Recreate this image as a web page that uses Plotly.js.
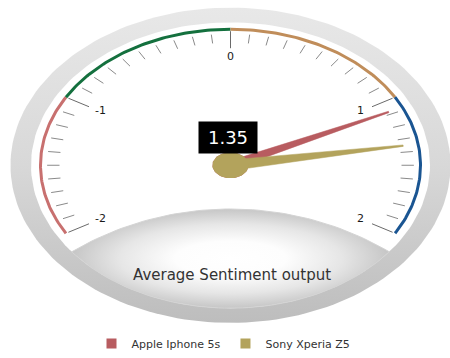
<!DOCTYPE html>
<html><head><meta charset="utf-8">
<script src="https://cdn.plot.ly/plotly-3.0.1.min.js"></script>
<style>html,body{margin:0;padding:0;background:#fff}#chart{width:450px;height:358px}</style>
</head><body><div id="chart"></div>
<script>
// ---- data ----
const seriesNames = ['Apple Iphone 5s', 'Sony Xperia Z5'];
const seriesValues = [1.08, 1.35];
const seriesColors = ['#b85c60', '#b3a35c'];
const tickValues = [-2, -1, 0, 1, 2];
const tickLabels = ['-2', '-1', '0', '1', '2'];
const bandFrom = [-2, -1, 0, 1];
const bandTo = [-1, 0, 1, 2];
const bandColors = ['#c8706f', '#14703e', '#c08d5a', '#1a5592'];
const gaugeMin = -2, gaugeMax = 2, minorStep = 0.1;
const gaugeTitle = 'Average Sentiment output';
const labelSeries = 1;

// ---- geometry helpers ----
const W = 450, H = 358, CX = 230.5, CY = 170, SX = 190, SY = 140;
const xr = [-CX / SX, (W - CX) / SX], yr = [(CY - H) / SY, CY / SY];
function ang(v) { return (-120 + (v - gaugeMin) / (gaugeMax - gaugeMin) * 240) * Math.PI / 180; }
function pt(r, a) { return [r * Math.sin(a), r * Math.cos(a)]; }
function ellipse(r, n) { const x = [], y = []; for (let i = 0; i <= n; i++) { const t = 2 * Math.PI * i / n; x.push(r * Math.cos(t)); y.push(r * Math.sin(t)); } return { x, y }; }
function arcPts(r, v0, v1, n) { const x = [], y = []; for (let i = 0; i <= n; i++) { const p = pt(r, ang(v0 + (v1 - v0) * i / n)); x.push(p[0]); y.push(p[1]); } return { x, y }; }

const traces = [];
const deco = { hoverinfo: 'skip', showlegend: false, type: 'scatter' };

// outer ring
const outer = ellipse(1.158, 180);
traces.push(Object.assign({}, deco, { x: outer.x, y: outer.y, mode: 'lines', fill: 'toself', line: { width: 0, color: 'rgba(0,0,0,0)' },
  fillgradient: { type: 'vertical', colorscale: [[0, '#bdbdbd'], [0.5, '#d8d8d8'], [1, '#e8e8e8']] } }));
// face
const FACE = 1.05;
const face = ellipse(FACE, 180);
traces.push(Object.assign({}, deco, { x: face.x, y: face.y, mode: 'lines', fill: 'toself', fillcolor: '#ffffff', line: { width: 0, color: 'rgba(0,0,0,0)' } }));

// lens (bottom pane)
(function () {
  const uy = -0.636, ux = Math.sqrt(FACE * FACE - uy * uy);
  const half = ux * SX, pyEnd = CY - uy * SY, peak = 215;
  const sag = pyEnd - peak, R = (half * half + sag * sag) / (2 * sag), cyc = peak + R;
  const phi0 = Math.asin(half / R);
  const x = [], y = [];
  for (let i = 0; i <= 60; i++) { const f = -phi0 + 2 * phi0 * i / 60; x.push((R * Math.sin(f)) / SX); y.push((CY - (cyc - R * Math.cos(f))) / SY); }
  const a0 = Math.atan2(uy, ux), a1 = Math.atan2(uy, -ux);
  for (let i = 1; i <= 60; i++) { const t = a0 + (a1 - a0) * i / 60; x.push(FACE * Math.cos(t)); y.push(FACE * Math.sin(t)); }
  traces.push(Object.assign({}, deco, { x, y, mode: 'lines', fill: 'toself', line: { width: 1, color: '#d4d4d4' },
    fillgradient: { type: 'radial', colorscale: [[0, '#ffffff'], [0.35, '#fdfdfd'], [0.7, '#e6e6e6'], [1, '#c6c6c6']] } }));
})();

// colour bands
for (let i = 0; i < bandFrom.length; i++) {
  const p = arcPts(1.0, bandFrom[i], bandTo[i], 60);
  traces.push(Object.assign({}, deco, { x: p.x, y: p.y, mode: 'lines', line: { width: 3, color: bandColors[i] } }));
}

// ticks
(function () {
  const x = [], y = [], xm = [], ym = [];
  const n = Math.round((gaugeMax - gaugeMin) / minorStep);
  for (let i = 0; i <= n; i++) {
    const v = gaugeMin + i * minorStep;
    const major = tickValues.some(t => Math.abs(t - v) < 1e-9);
    const a = ang(v);
    const p0 = pt(major ? 0.985 : 0.965, a), p1 = pt(major ? 0.86 : 0.9, a);
    if (major) { xm.push(p0[0], p1[0], null); ym.push(p0[1], p1[1], null); }
    else { x.push(p0[0], p1[0], null); y.push(p0[1], p1[1], null); }
  }
  traces.push(Object.assign({}, deco, { x, y, mode: 'lines', line: { width: 1, color: '#8a8a8a' } }));
  traces.push(Object.assign({}, deco, { x: xm, y: ym, mode: 'lines', line: { width: 1, color: '#6a6a6a' } }));
})();

// tick labels
traces.push(Object.assign({}, deco, {
  x: tickValues.map(v => pt(0.79, ang(v))[0]), y: tickValues.map(v => pt(0.79, ang(v))[1]),
  mode: 'text', text: tickLabels, textposition: 'middle center',
  textfont: { family: 'DejaVu Sans', size: 11, color: '#1a1a1a' }
}));

// needles
function needle(v, baseW, topW, r) {
  const a = ang(v);
  const dx = Math.sin(a) * SX, dy = Math.cos(a) * SY, L = Math.hypot(dx, dy);
  const px = -dy / L, py = dx / L;
  const off = w => [px * w / 2 / SX, py * w / 2 / SY];
  const tip = pt(r, a), b = off(baseW), t = off(topW);
  return { x: [b[0], tip[0] + t[0], tip[0] - t[0], -b[0], b[0]], y: [b[1], tip[1] + t[1], tip[1] - t[1], -b[1], b[1]] };
}
const piv = ellipse(0.095, 60);
for (let i = 0; i < seriesValues.length; i++) {
  const nd = needle(seriesValues[i], i === 0 ? 9 : 11, 1.5, 0.92);
  traces.push({ type: 'scatter', x: nd.x, y: nd.y, mode: 'lines', fill: 'toself', fillcolor: seriesColors[i],
    line: { width: 0.5, color: seriesColors[i] }, hoverinfo: 'skip', showlegend: false, legendgroup: 'g' + i, name: seriesNames[i] });
  traces.push({ type: 'scatter', x: piv.x, y: piv.y, mode: 'lines', fill: 'toself', fillcolor: seriesColors[i],
    line: { width: 0, color: seriesColors[i] }, hoverinfo: 'skip', showlegend: false, legendgroup: 'g' + i, name: seriesNames[i] });
}
// legend entries
for (let i = 0; i < seriesNames.length; i++) {
  traces.push({ type: 'scatter', x: [null], y: [null], mode: 'markers', name: seriesNames[i], legendgroup: 'g' + i,
    marker: { symbol: 'square', size: 10, color: seriesColors[i] }, hoverinfo: 'skip' });
}

const layout = {
  width: W, height: H, margin: { l: 0, r: 0, t: 0, b: 0 },
  paper_bgcolor: '#ffffff', plot_bgcolor: '#ffffff',
  xaxis: { range: xr, visible: false, fixedrange: true },
  yaxis: { range: yr, visible: false, fixedrange: true },
  showlegend: true,
  legend: { orientation: 'h', x: 91.5 / W, xanchor: 'left', y: -0.03, yanchor: 'bottom',
    font: { family: 'DejaVu Sans', size: 11, color: '#333333' }, bgcolor: 'rgba(0,0,0,0)' },
  hovermode: false,
  annotations: [
    { x: 0.008, y: -0.81, xref: 'x', yref: 'y', text: gaugeTitle, showarrow: false,
      font: { family: 'DejaVu Sans', size: 15, color: '#333333' } },
    { x: -0.013, y: 0.207, xref: 'x', yref: 'y', text: seriesValues[labelSeries].toFixed(2), showarrow: false,
      bgcolor: '#000000', width: 50, height: 23, borderpad: 4,
      font: { family: 'DejaVu Sans', size: 18, color: '#ffffff' } }
  ]
};
Plotly.newPlot('chart', traces, layout, { displayModeBar: false, staticPlot: true });
</script></body></html>
